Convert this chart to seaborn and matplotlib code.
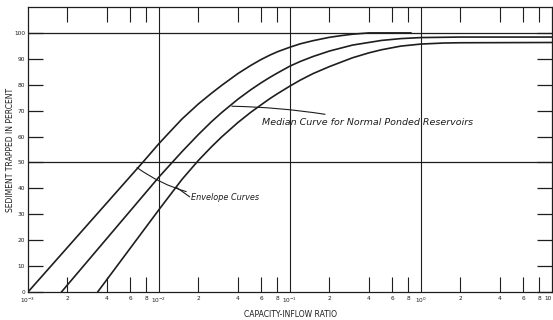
import matplotlib
matplotlib.use("Agg")
import matplotlib.pyplot as plt
import numpy as np
import pandas as pd
import seaborn as sns

# curves: capacity-inflow ratio vs. percent trapped
upper_ratio = [0.001, 0.0075, 0.01, 0.012, 0.015, 0.02, 0.025, 0.03, 0.04,
               0.05, 0.06, 0.07, 0.08, 0.1, 0.12, 0.15, 0.2, 0.25, 0.3,
               0.4, 0.84]
upper_pct = [0, 50, 57.3, 61.6, 66.8, 72.6, 76.6, 79.7, 84.3, 87.4, 89.7,
             91.4, 92.7, 94.5, 95.8, 97, 98.3, 99, 99.5, 100, 100]

median_ratio = [0.0018, 0.01, 0.0126, 0.015, 0.02, 0.025, 0.03, 0.04, 0.05,
                0.06, 0.07, 0.08, 0.1, 0.12, 0.15, 0.2, 0.3, 0.5, 0.7, 1.0,
                2.0, 10.0]
median_pct = [0, 44.4, 50, 54.2, 60.8, 65.6, 69.2, 74.4, 78, 80.7, 82.8,
              84.5, 87.2, 89, 90.9, 93, 95.3, 97.1, 97.8, 98.2, 98.4, 98.4]

lower_ratio = [0.0034, 0.01, 0.015, 0.02, 0.025, 0.03, 0.04, 0.05, 0.06,
               0.07, 0.08, 0.1, 0.12, 0.15, 0.2, 0.3, 0.4, 0.5, 0.7, 1.0,
               1.5, 2.0, 10.0]
lower_pct = [0, 31.8, 43.5, 50.8, 55.9, 59.8, 65.4, 69.3, 72.2, 74.6, 76.5,
             79.5, 81.8, 84.3, 87, 90.4, 92.3, 93.5, 94.9, 95.7, 96.1, 96.2,
             96.3]

y_ticks = list(range(0, 101, 10))
grid_pct = [50, 100]
decades = [1e-3, 1e-2, 1e-1, 1e0, 1e1]
decade_labels = ["$10^{-3}$", "$10^{-2}$", "$10^{-1}$", "$10^{0}$", "10"]
minor_mult = [2, 4, 6, 8]

frames = []
for name, r, p in [("upper", upper_ratio, upper_pct),
                   ("median", median_ratio, median_pct),
                   ("lower", lower_ratio, lower_pct)]:
    frames.append(pd.DataFrame({"ratio": r, "pct": p, "curve": name}))
df = pd.concat(frames, ignore_index=True)

sns.set_style("white")
plt.rcParams["font.family"] = ["DejaVu Sans"]
ink = "#1e1e1e"

fig = plt.figure(figsize=(5.53, 3.2), dpi=100)
ax = fig.add_axes([28 / 553, 28 / 320, 524 / 553, 285 / 320])
ax.set_xscale("log")

sns.lineplot(data=df, x="ratio", y="pct", hue="curve", units="curve",
             estimator=None, sort=False, legend=False,
             palette={"upper": ink, "median": ink, "lower": ink},
             linewidth=1.2, ax=ax)

ax.set_xlim(decades[0], decades[-1])
ax.set_ylim(0, 110)

# reference lines at decades and at 50 / 100 percent
for d in decades[1:-1]:
    ax.axvline(d, color=ink, lw=0.8, zorder=1)
for g in grid_pct:
    ax.axhline(g, color=ink, lw=0.9, zorder=1)

for s in ax.spines.values():
    s.set_color(ink)
    s.set_linewidth(0.9)

# y ticks, inward on both sides
ax.set_yticks(y_ticks)
ax.set_yticklabels([str(v) for v in y_ticks])
ax.tick_params(axis="y", which="major", direction="in", length=11,
               width=0.9, color=ink, left=True, right=True, labelsize=4.2,
               pad=2, labelcolor=ink)

# x ticks: decades labelled, 2-4-6-8 minors inward top and bottom
minor_pos = [m * d for d in decades[:-1] for m in minor_mult]
minor_lab = [str(m) for d in decades[:-1] for m in minor_mult]
ax.set_xticks(decades)
ax.set_xticklabels(decade_labels)
ax.set_xticks(minor_pos, minor=True)
ax.set_xticklabels(minor_lab, minor=True)
ax.tick_params(axis="x", which="major", length=0, labelsize=4.2, pad=3,
               labelcolor=ink)
ax.tick_params(axis="x", which="minor", direction="in", length=11,
               width=0.8, color=ink, top=True, bottom=True, labelsize=4.2,
               pad=3, labelcolor=ink)
ax.get_xticklabels()[-1].set_horizontalalignment("right")

ax.set_ylabel("SEDIMENT TRAPPED IN PERCENT", fontsize=5.5, color=ink)
ax.yaxis.set_label_coords(-0.025, 0.5)
ax.set_xlabel("CAPACITY-INFLOW RATIO", fontsize=5.5, color=ink)
ax.xaxis.set_label_coords(0.5, -0.063)

txt = dict(fontsize=6.8, style="italic", color=ink, va="center", ha="left")
ax.annotate("Median Curve for Normal Ponded Reservoirs", xy=(0.036, 71.7),
            xytext=(0.061, 65.5),
            arrowprops=dict(arrowstyle="-", color=ink, lw=0.8,
                            shrinkA=1, shrinkB=0,
                            connectionstyle="arc3,rad=0.05"), **txt)
txt["fontsize"] = 5.9
ax.annotate("Envelope Curves", xy=(0.0068, 48), xytext=(0.0175, 36.4),
            arrowprops=dict(arrowstyle="-", color=ink, lw=0.8,
                            shrinkA=1, shrinkB=0,
                            connectionstyle="arc3,rad=-0.15"), **txt)
ax.annotate("", xy=(0.0135, 40.5), xytext=(0.0175, 36.4),
            arrowprops=dict(arrowstyle="-", color=ink, lw=0.8,
                            shrinkA=1, shrinkB=0))

fig.savefig("out.png", dpi=100, facecolor="white")
